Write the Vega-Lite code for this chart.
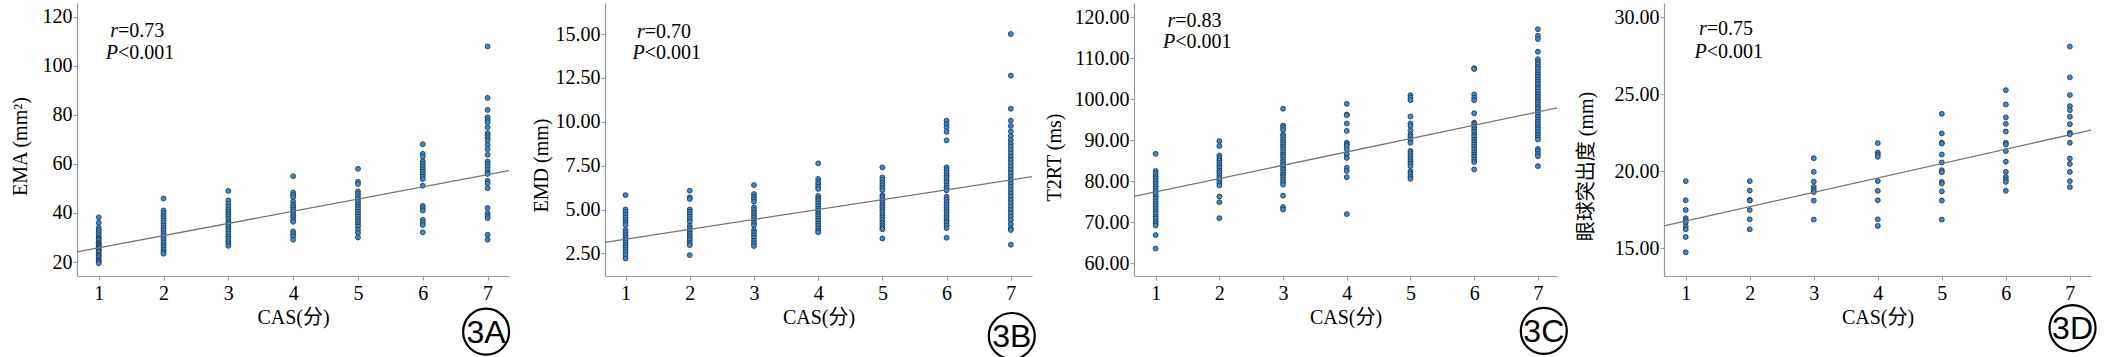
{
"$schema": "https://vega.github.io/schema/vega-lite/v6.json",
"padding": {"left": 10, "top": 3, "right": 0, "bottom": 0},
"background": "white",
"config": {
  "view": {"stroke": null},
  "axis": {"grid": false, "domainColor": "#9a9a9a", "domainWidth": 1.2, "tickColor": "#9a9a9a", "tickSize": 4, "tickWidth": 1,
    "labelFont": "Liberation Serif", "labelFontSize": 20, "labelColor": "#000000",
    "titleFont": "Liberation Serif, Noto Sans CJK SC", "titleFontSize": 20, "titleFontWeight": "normal", "titleColor": "#000000"},
  "axisX": {"labelPadding": 3, "titlePadding": 4},
  "axisY": {"labelPadding": 1}
},
"datasets": {
"A": [
{"CAS":1,"v":38.2},{"CAS":1,"v":36},{"CAS":1,"v":34},{"CAS":1,"v":33},{"CAS":1,"v":32},{"CAS":1,"v":31},{"CAS":1,"v":30},{"CAS":1,"v":29.5},{"CAS":1,"v":29},{"CAS":1,"v":28},{"CAS":1,"v":27.5},{"CAS":1,"v":27},{"CAS":1,"v":26.5},{"CAS":1,"v":26},{"CAS":1,"v":25.5},{"CAS":1,"v":25},{"CAS":1,"v":24.5},{"CAS":1,"v":24},{"CAS":1,"v":23},{"CAS":1,"v":22.5},{"CAS":1,"v":22},{"CAS":1,"v":21},{"CAS":1,"v":20.5},{"CAS":1,"v":20},{"CAS":1,"v":19.5},
{"CAS":2,"v":45.9},{"CAS":2,"v":41},{"CAS":2,"v":39.9},{"CAS":2,"v":38.8},{"CAS":2,"v":37.9},{"CAS":2,"v":36.9},{"CAS":2,"v":35.9},{"CAS":2,"v":34.8},{"CAS":2,"v":33.8},{"CAS":2,"v":32.9},{"CAS":2,"v":31.8},{"CAS":2,"v":30.8},{"CAS":2,"v":29.9},{"CAS":2,"v":29.1},{"CAS":2,"v":28},{"CAS":2,"v":27},{"CAS":2,"v":26.1},{"CAS":2,"v":25},{"CAS":2,"v":24.1},{"CAS":2,"v":23.4},
{"CAS":3,"v":49},{"CAS":3,"v":45.1},{"CAS":3,"v":43.7},{"CAS":3,"v":42.6},{"CAS":3,"v":41.5},{"CAS":3,"v":40.5},{"CAS":3,"v":39.5},{"CAS":3,"v":38.6},{"CAS":3,"v":37.6},{"CAS":3,"v":36.5},{"CAS":3,"v":35.6},{"CAS":3,"v":34.5},{"CAS":3,"v":33.6},{"CAS":3,"v":32.6},{"CAS":3,"v":31.5},{"CAS":3,"v":30.4},{"CAS":3,"v":29.5},{"CAS":3,"v":28.5},{"CAS":3,"v":27.6},{"CAS":3,"v":26.6},
{"CAS":4,"v":55},{"CAS":4,"v":48.3},{"CAS":4,"v":47.4},{"CAS":4,"v":46.4},{"CAS":4,"v":44.7},{"CAS":4,"v":43.3},{"CAS":4,"v":42.4},{"CAS":4,"v":41.3},{"CAS":4,"v":40.4},{"CAS":4,"v":39.3},{"CAS":4,"v":38.4},{"CAS":4,"v":37.3},{"CAS":4,"v":36.4},{"CAS":4,"v":32.5},{"CAS":4,"v":31.4},{"CAS":4,"v":30.5},{"CAS":4,"v":29.1},
{"CAS":5,"v":58},{"CAS":5,"v":52.7},{"CAS":5,"v":51.8},{"CAS":5,"v":48.8},{"CAS":5,"v":47.8},{"CAS":5,"v":46.7},{"CAS":5,"v":45.7},{"CAS":5,"v":44.7},{"CAS":5,"v":43.6},{"CAS":5,"v":42.6},{"CAS":5,"v":41.6},{"CAS":5,"v":40.6},{"CAS":5,"v":39.6},{"CAS":5,"v":38.6},{"CAS":5,"v":37.5},{"CAS":5,"v":36.5},{"CAS":5,"v":35.5},{"CAS":5,"v":34.5},{"CAS":5,"v":33.1},{"CAS":5,"v":31.8},{"CAS":5,"v":30},
{"CAS":6,"v":68},{"CAS":6,"v":64.1},{"CAS":6,"v":63},{"CAS":6,"v":61.1},{"CAS":6,"v":60},{"CAS":6,"v":58.9},{"CAS":6,"v":57.8},{"CAS":6,"v":56.9},{"CAS":6,"v":55.9},{"CAS":6,"v":54.9},{"CAS":6,"v":53.8},{"CAS":6,"v":51.1},{"CAS":6,"v":42.9},{"CAS":6,"v":42},{"CAS":6,"v":41},{"CAS":6,"v":37.2},{"CAS":6,"v":36.1},{"CAS":6,"v":35.1},{"CAS":6,"v":32.1},
{"CAS":7,"v":107.9},{"CAS":7,"v":86.9},{"CAS":7,"v":82},{"CAS":7,"v":79},{"CAS":7,"v":77.9},{"CAS":7,"v":77},{"CAS":7,"v":74.9},{"CAS":7,"v":72.5},{"CAS":7,"v":71.6},{"CAS":7,"v":70.5},{"CAS":7,"v":69.5},{"CAS":7,"v":67.8},{"CAS":7,"v":66},{"CAS":7,"v":63.7},{"CAS":7,"v":61},{"CAS":7,"v":60},{"CAS":7,"v":58.9},{"CAS":7,"v":57.6},{"CAS":7,"v":56.4},{"CAS":7,"v":55.9},{"CAS":7,"v":53.1},{"CAS":7,"v":52.1},{"CAS":7,"v":50.1},{"CAS":7,"v":42},{"CAS":7,"v":39.9},{"CAS":7,"v":38.8},{"CAS":7,"v":37.9},{"CAS":7,"v":31.1},{"CAS":7,"v":29.1}
],
"B": [
{"CAS":1,"v":5.82},{"CAS":1,"v":5.0},{"CAS":1,"v":4.87},{"CAS":1,"v":4.73},{"CAS":1,"v":4.55},{"CAS":1,"v":4.4},{"CAS":1,"v":4.26},{"CAS":1,"v":4.12},{"CAS":1,"v":3.83},{"CAS":1,"v":3.69},{"CAS":1,"v":3.54},{"CAS":1,"v":3.4},{"CAS":1,"v":3.26},{"CAS":1,"v":3.12},{"CAS":1,"v":2.97},{"CAS":1,"v":2.84},{"CAS":1,"v":2.69},{"CAS":1,"v":2.56},{"CAS":1,"v":2.4},{"CAS":1,"v":2.21},
{"CAS":2,"v":6.07},{"CAS":2,"v":5.69},{"CAS":2,"v":5.6},{"CAS":2,"v":5.0},{"CAS":2,"v":4.87},{"CAS":2,"v":4.73},{"CAS":2,"v":4.59},{"CAS":2,"v":4.45},{"CAS":2,"v":4.3},{"CAS":2,"v":4.06},{"CAS":2,"v":3.92},{"CAS":2,"v":3.79},{"CAS":2,"v":3.64},{"CAS":2,"v":3.5},{"CAS":2,"v":3.37},{"CAS":2,"v":3.26},{"CAS":2,"v":3.1},{"CAS":2,"v":2.97},{"CAS":2,"v":2.4},
{"CAS":3,"v":6.39},{"CAS":3,"v":5.88},{"CAS":3,"v":5.73},{"CAS":3,"v":5.6},{"CAS":3,"v":5.44},{"CAS":3,"v":5.12},{"CAS":3,"v":4.97},{"CAS":3,"v":4.82},{"CAS":3,"v":4.68},{"CAS":3,"v":4.55},{"CAS":3,"v":4.4},{"CAS":3,"v":4.25},{"CAS":3,"v":4.1},{"CAS":3,"v":3.83},{"CAS":3,"v":3.68},{"CAS":3,"v":3.54},{"CAS":3,"v":3.4},{"CAS":3,"v":3.22},{"CAS":3,"v":3.07},{"CAS":3,"v":2.92},
{"CAS":4,"v":7.63},{"CAS":4,"v":6.74},{"CAS":4,"v":6.58},{"CAS":4,"v":6.45},{"CAS":4,"v":6.3},{"CAS":4,"v":6.17},{"CAS":4,"v":5.77},{"CAS":4,"v":5.63},{"CAS":4,"v":5.5},{"CAS":4,"v":5.35},{"CAS":4,"v":5.21},{"CAS":4,"v":5.06},{"CAS":4,"v":4.93},{"CAS":4,"v":4.78},{"CAS":4,"v":4.64},{"CAS":4,"v":4.49},{"CAS":4,"v":4.36},{"CAS":4,"v":4.2},{"CAS":4,"v":4.07},{"CAS":4,"v":3.92},{"CAS":4,"v":3.79},{"CAS":4,"v":3.7},
{"CAS":5,"v":7.4},{"CAS":5,"v":6.83},{"CAS":5,"v":6.68},{"CAS":5,"v":6.53},{"CAS":5,"v":6.39},{"CAS":5,"v":6.24},{"CAS":5,"v":6.11},{"CAS":5,"v":5.82},{"CAS":5,"v":5.69},{"CAS":5,"v":5.54},{"CAS":5,"v":5.39},{"CAS":5,"v":5.25},{"CAS":5,"v":5.12},{"CAS":5,"v":4.97},{"CAS":5,"v":4.84},{"CAS":5,"v":4.68},{"CAS":5,"v":4.55},{"CAS":5,"v":4.4},{"CAS":5,"v":4.25},{"CAS":5,"v":4.11},{"CAS":5,"v":3.98},{"CAS":5,"v":3.87},{"CAS":5,"v":3.35},
{"CAS":6,"v":10.06},{"CAS":6,"v":9.87},{"CAS":6,"v":9.68},{"CAS":6,"v":9.43},{"CAS":6,"v":8.94},{"CAS":6,"v":7.4},{"CAS":6,"v":7.25},{"CAS":6,"v":7.1},{"CAS":6,"v":6.94},{"CAS":6,"v":6.81},{"CAS":6,"v":6.66},{"CAS":6,"v":6.53},{"CAS":6,"v":6.37},{"CAS":6,"v":6.24},{"CAS":6,"v":6.09},{"CAS":6,"v":5.73},{"CAS":6,"v":5.58},{"CAS":6,"v":5.42},{"CAS":6,"v":5.27},{"CAS":6,"v":5.12},{"CAS":6,"v":4.97},{"CAS":6,"v":4.84},{"CAS":6,"v":4.68},{"CAS":6,"v":4.53},{"CAS":6,"v":4.38},{"CAS":6,"v":4.25},{"CAS":6,"v":4.09},{"CAS":6,"v":3.94},{"CAS":6,"v":3.39},
{"CAS":7,"v":15.0},{"CAS":7,"v":12.63},{"CAS":7,"v":10.74},{"CAS":7,"v":10.06},{"CAS":7,"v":9.76},{"CAS":7,"v":9.45},{"CAS":7,"v":9.19},{"CAS":7,"v":8.96},{"CAS":7,"v":8.77},{"CAS":7,"v":8.58},{"CAS":7,"v":8.39},{"CAS":7,"v":8.2},{"CAS":7,"v":8.0},{"CAS":7,"v":7.82},{"CAS":7,"v":7.63},{"CAS":7,"v":7.44},{"CAS":7,"v":7.25},{"CAS":7,"v":7.06},{"CAS":7,"v":6.87},{"CAS":7,"v":6.68},{"CAS":7,"v":6.49},{"CAS":7,"v":6.3},{"CAS":7,"v":6.11},{"CAS":7,"v":5.92},{"CAS":7,"v":5.73},{"CAS":7,"v":5.54},{"CAS":7,"v":5.35},{"CAS":7,"v":5.16},{"CAS":7,"v":4.97},{"CAS":7,"v":4.78},{"CAS":7,"v":4.59},{"CAS":7,"v":4.4},{"CAS":7,"v":4.17},{"CAS":7,"v":3.94},{"CAS":7,"v":3.83},{"CAS":7,"v":2.99}
],
"C": [
{"CAS":1,"v":86.7},{"CAS":1,"v":82.5},{"CAS":1,"v":81.9},{"CAS":1,"v":81.2},{"CAS":1,"v":80.7},{"CAS":1,"v":80.0},{"CAS":1,"v":79.4},{"CAS":1,"v":78.8},{"CAS":1,"v":78.2},{"CAS":1,"v":77.6},{"CAS":1,"v":77.0},{"CAS":1,"v":76.3},{"CAS":1,"v":75.8},{"CAS":1,"v":75.1},{"CAS":1,"v":74.5},{"CAS":1,"v":73.9},{"CAS":1,"v":73.3},{"CAS":1,"v":72.7},{"CAS":1,"v":72.1},{"CAS":1,"v":71.4},{"CAS":1,"v":70.9},{"CAS":1,"v":70.2},{"CAS":1,"v":69.7},{"CAS":1,"v":69.2},{"CAS":1,"v":66.9},{"CAS":1,"v":63.6},
{"CAS":2,"v":89.8},{"CAS":2,"v":88.6},{"CAS":2,"v":86.3},{"CAS":2,"v":85.7},{"CAS":2,"v":85.1},{"CAS":2,"v":84.5},{"CAS":2,"v":83.9},{"CAS":2,"v":83.3},{"CAS":2,"v":82.6},{"CAS":2,"v":82.1},{"CAS":2,"v":81.4},{"CAS":2,"v":80.8},{"CAS":2,"v":80.2},{"CAS":2,"v":79.6},{"CAS":2,"v":79.0},{"CAS":2,"v":76.3},{"CAS":2,"v":74.9},{"CAS":2,"v":71.0},
{"CAS":3,"v":97.7},{"CAS":3,"v":93.6},{"CAS":3,"v":93.1},{"CAS":3,"v":92.5},{"CAS":3,"v":91.4},{"CAS":3,"v":90.9},{"CAS":3,"v":90.2},{"CAS":3,"v":89.6},{"CAS":3,"v":89.0},{"CAS":3,"v":88.4},{"CAS":3,"v":87.8},{"CAS":3,"v":87.1},{"CAS":3,"v":86.5},{"CAS":3,"v":86.0},{"CAS":3,"v":85.3},{"CAS":3,"v":84.7},{"CAS":3,"v":84.1},{"CAS":3,"v":83.5},{"CAS":3,"v":82.9},{"CAS":3,"v":82.2},{"CAS":3,"v":81.6},{"CAS":3,"v":81.1},{"CAS":3,"v":80.4},{"CAS":3,"v":79.8},{"CAS":3,"v":79.2},{"CAS":3,"v":76.5},{"CAS":3,"v":73.7},{"CAS":3,"v":73.1},
{"CAS":4,"v":98.9},{"CAS":4,"v":96.3},{"CAS":4,"v":96.1},{"CAS":4,"v":94.1},{"CAS":4,"v":92.3},{"CAS":4,"v":89.4},{"CAS":4,"v":89.0},{"CAS":4,"v":88.6},{"CAS":4,"v":87.8},{"CAS":4,"v":86.6},{"CAS":4,"v":85.7},{"CAS":4,"v":83.3},{"CAS":4,"v":82.5},{"CAS":4,"v":81.0},{"CAS":4,"v":72.0},
{"CAS":5,"v":101.0},{"CAS":5,"v":100.4},{"CAS":5,"v":99.8},{"CAS":5,"v":95.8},{"CAS":5,"v":94.1},{"CAS":5,"v":93.5},{"CAS":5,"v":92.4},{"CAS":5,"v":91.4},{"CAS":5,"v":90.9},{"CAS":5,"v":90.2},{"CAS":5,"v":89.4},{"CAS":5,"v":87.4},{"CAS":5,"v":86.8},{"CAS":5,"v":86.1},{"CAS":5,"v":85.5},{"CAS":5,"v":84.9},{"CAS":5,"v":84.3},{"CAS":5,"v":83.7},{"CAS":5,"v":82.5},{"CAS":5,"v":81.9},{"CAS":5,"v":81.2},{"CAS":5,"v":80.6},
{"CAS":6,"v":107.6},{"CAS":6,"v":107.4},{"CAS":6,"v":101.2},{"CAS":6,"v":100.4},{"CAS":6,"v":99.8},{"CAS":6,"v":96.6},{"CAS":6,"v":94.3},{"CAS":6,"v":93.9},{"CAS":6,"v":93.3},{"CAS":6,"v":92.7},{"CAS":6,"v":92.1},{"CAS":6,"v":91.4},{"CAS":6,"v":90.9},{"CAS":6,"v":90.2},{"CAS":6,"v":89.6},{"CAS":6,"v":89.0},{"CAS":6,"v":88.4},{"CAS":6,"v":87.8},{"CAS":6,"v":87.1},{"CAS":6,"v":86.5},{"CAS":6,"v":86.0},{"CAS":6,"v":85.3},{"CAS":6,"v":84.7},{"CAS":6,"v":82.9},
{"CAS":7,"v":117.1},{"CAS":7,"v":115.5},{"CAS":7,"v":114.7},{"CAS":7,"v":111.6},{"CAS":7,"v":109.8},{"CAS":7,"v":109.1},{"CAS":7,"v":108.6},{"CAS":7,"v":107.9},{"CAS":7,"v":107.4},{"CAS":7,"v":106.7},{"CAS":7,"v":106.1},{"CAS":7,"v":105.5},{"CAS":7,"v":104.9},{"CAS":7,"v":104.3},{"CAS":7,"v":103.7},{"CAS":7,"v":103.0},{"CAS":7,"v":102.5},{"CAS":7,"v":101.8},{"CAS":7,"v":101.2},{"CAS":7,"v":100.6},{"CAS":7,"v":100.0},{"CAS":7,"v":99.4},{"CAS":7,"v":98.8},{"CAS":7,"v":98.1},{"CAS":7,"v":97.6},{"CAS":7,"v":96.9},{"CAS":7,"v":96.3},{"CAS":7,"v":95.7},{"CAS":7,"v":95.1},{"CAS":7,"v":94.5},{"CAS":7,"v":93.9},{"CAS":7,"v":93.2},{"CAS":7,"v":92.7},{"CAS":7,"v":92.0},{"CAS":7,"v":91.4},{"CAS":7,"v":90.8},{"CAS":7,"v":90.2},{"CAS":7,"v":87.9},{"CAS":7,"v":87.4},{"CAS":7,"v":86.7},{"CAS":7,"v":86.1},{"CAS":7,"v":83.7}
],
"D": [
{"CAS":1,"v":19.36},{"CAS":1,"v":18.12},{"CAS":1,"v":17.49},{"CAS":1,"v":16.95},{"CAS":1,"v":16.8},{"CAS":1,"v":16.67},{"CAS":1,"v":16.41},{"CAS":1,"v":16.23},{"CAS":1,"v":15.73},{"CAS":1,"v":14.74},
{"CAS":2,"v":19.36},{"CAS":2,"v":18.75},{"CAS":2,"v":18.14},{"CAS":2,"v":18.1},{"CAS":2,"v":17.49},{"CAS":2,"v":16.88},{"CAS":2,"v":16.23},
{"CAS":3,"v":20.85},{"CAS":3,"v":19.96},{"CAS":3,"v":19.33},{"CAS":3,"v":18.99},{"CAS":3,"v":18.8},{"CAS":3,"v":18.65},{"CAS":3,"v":18.1},{"CAS":3,"v":16.86},
{"CAS":4,"v":21.83},{"CAS":4,"v":21.22},{"CAS":4,"v":21.09},{"CAS":4,"v":20.94},{"CAS":4,"v":19.36},{"CAS":4,"v":18.73},{"CAS":4,"v":18.12},{"CAS":4,"v":16.88},{"CAS":4,"v":16.45},
{"CAS":5,"v":23.73},{"CAS":5,"v":22.46},{"CAS":5,"v":21.85},{"CAS":5,"v":21.8},{"CAS":5,"v":21.09},{"CAS":5,"v":20.57},{"CAS":5,"v":20.07},{"CAS":5,"v":19.94},{"CAS":5,"v":19.31},{"CAS":5,"v":19.2},{"CAS":5,"v":18.7},{"CAS":5,"v":18.1},{"CAS":5,"v":16.86},
{"CAS":6,"v":25.27},{"CAS":6,"v":24.34},{"CAS":6,"v":23.5},{"CAS":6,"v":23.08},{"CAS":6,"v":22.58},{"CAS":6,"v":21.85},{"CAS":6,"v":21.74},{"CAS":6,"v":21.31},{"CAS":6,"v":20.62},{"CAS":6,"v":19.96},{"CAS":6,"v":19.64},{"CAS":6,"v":19.47},{"CAS":6,"v":19.31},{"CAS":6,"v":18.73},
{"CAS":7,"v":28.1},{"CAS":7,"v":26.1},{"CAS":7,"v":24.95},{"CAS":7,"v":24.23},{"CAS":7,"v":23.97},{"CAS":7,"v":23.54},{"CAS":7,"v":23.06},{"CAS":7,"v":22.5},{"CAS":7,"v":22.4},{"CAS":7,"v":21.85},{"CAS":7,"v":20.83},{"CAS":7,"v":20.48},{"CAS":7,"v":19.96},{"CAS":7,"v":19.36},{"CAS":7,"v":18.97}
]
},
"bounds": "flush",
"spacing": 96,
"hconcat": [
{
 "width": 432, "height": 273,
 "layer": [
  {"data": {"name": "A"}, "mark": {"type": "point", "filled": true, "size": 24, "fill": "#3b8bd0", "stroke": "#1f3a55", "strokeWidth": 0.9, "opacity": 1},
   "encoding": {
    "x": {"field": "CAS", "type": "quantitative", "scale": {"domain": [0.665, 7.33], "nice": false, "zero": false}, "axis": {"title": "CAS(分)", "values": [1,2,3,4,5,6,7], "format": "d"}},
    "y": {"field": "v", "type": "quantitative", "scale": {"domain": [14.3, 125.6], "nice": false, "zero": false}, "axis": {"title": "EMA (mm²)", "values": [20,40,60,80,100,120], "format": "d", "titlePadding": 12, "titleY": 143}}
   }},
  {"data": {"values": [{"CAS": 0.665, "v": 24.1}, {"CAS": 7.33, "v": 57.3}]}, "mark": {"type": "line", "color": "#757575", "strokeWidth": 1.3},
   "encoding": {"x": {"field": "CAS", "type": "quantitative"}, "y": {"field": "v", "type": "quantitative"}}},
  {"data": {"values": [{}]}, "mark": {"type": "text", "text": ["r", "P"], "fontStyle": "italic", "align": "right", "baseline": "alphabetic", "lineHeight": 22, "font": "Liberation Serif", "fontSize": 20, "color": "#000"}, "encoding": {"x": {"datum": 1.298}, "y": {"datum": 111.85}}},
  {"data": {"values": [{}]}, "mark": {"type": "text", "text": ["=0.73", "<0.001"], "align": "left", "baseline": "alphabetic", "lineHeight": 22, "font": "Liberation Serif", "fontSize": 20, "color": "#000"}, "encoding": {"x": {"datum": 1.298}, "y": {"datum": 111.85}}},
  {"data": {"values": [{}]}, "mark": {"type": "point", "shape": "circle", "size": 2116, "filled": false, "stroke": "#000", "strokeWidth": 2.2, "opacity": 1}, "encoding": {"x": {"datum": 6.977}, "y": {"datum": -8.39}}},
  {"data": {"values": [{}]}, "mark": {"type": "text", "text": "3A", "font": "Liberation Sans", "fontSize": 32, "align": "center", "baseline": "middle", "dy": 1, "color": "#000"}, "encoding": {"x": {"datum": 6.977}, "y": {"datum": -8.39}}}
 ]
},
{
 "bounds": "flush",
 "spacing": 102,
 "hconcat": [
 {
  "width": 427, "height": 273,
  "layer": [
   {"data": {"name": "B"}, "mark": {"type": "point", "filled": true, "size": 24, "fill": "#3b8bd0", "stroke": "#1f3a55", "strokeWidth": 0.9, "opacity": 1},
    "encoding": {
     "x": {"field": "CAS", "type": "quantitative", "scale": {"domain": [0.68, 7.33], "nice": false, "zero": false}, "axis": {"title": "CAS(分)", "values": [1,2,3,4,5,6,7], "format": "d"}},
     "y": {"field": "v", "type": "quantitative", "scale": {"domain": [1.21, 16.77], "nice": false, "zero": false}, "axis": {"title": "EMD (mm)", "values": [2.5,5,7.5,10,12.5,15], "format": ".2f", "titlePadding": 4, "titleY": 162}}
    }},
   {"data": {"values": [{"CAS": 0.68, "v": 3.13}, {"CAS": 7.33, "v": 6.87}]}, "mark": {"type": "line", "color": "#757575", "strokeWidth": 1.3},
    "encoding": {"x": {"field": "CAS", "type": "quantitative"}, "y": {"field": "v", "type": "quantitative"}}},
   {"data": {"values": [{}]}, "mark": {"type": "text", "text": ["r", "P"], "fontStyle": "italic", "align": "right", "baseline": "alphabetic", "lineHeight": 21, "font": "Liberation Serif", "fontSize": 20, "color": "#000"}, "encoding": {"x": {"datum": 1.298}, "y": {"datum": 14.79}}},
   {"data": {"values": [{}]}, "mark": {"type": "text", "text": ["=0.70", "<0.001"], "align": "left", "baseline": "alphabetic", "lineHeight": 21, "font": "Liberation Serif", "fontSize": 20, "color": "#000"}, "encoding": {"x": {"datum": 1.298}, "y": {"datum": 14.79}}},
   {"data": {"values": [{}]}, "mark": {"type": "point", "shape": "circle", "size": 2116, "filled": false, "stroke": "#000", "strokeWidth": 2.2, "opacity": 1}, "encoding": {"x": {"datum": 7.015}, "y": {"datum": -2.21}}},
   {"data": {"values": [{}]}, "mark": {"type": "text", "text": "3B", "font": "Liberation Sans", "fontSize": 32, "align": "center", "baseline": "middle", "dy": 1, "color": "#000"}, "encoding": {"x": {"datum": 7.015}, "y": {"datum": -2.21}}}
  ]
 },
 {
  "bounds": "flush",
  "spacing": 107,
  "hconcat": [
  {
   "width": 423, "height": 273,
   "layer": [
    {"data": {"name": "C"}, "mark": {"type": "point", "filled": true, "size": 24, "fill": "#3b8bd0", "stroke": "#1f3a55", "strokeWidth": 0.9, "opacity": 1},
     "encoding": {
      "x": {"field": "CAS", "type": "quantitative", "scale": {"domain": [0.66, 7.30], "nice": false, "zero": false}, "axis": {"title": "CAS(分)", "values": [1,2,3,4,5,6,7], "format": "d"}},
      "y": {"field": "v", "type": "quantitative", "scale": {"domain": [56.9, 123.5], "nice": false, "zero": false}, "axis": {"title": "T2RT (ms)", "values": [60,70,80,90,100,110,120], "format": ".2f", "titlePadding": 10, "titleY": 154}}
     }},
    {"data": {"values": [{"CAS": 0.66, "v": 76.3}, {"CAS": 7.30, "v": 97.9}]}, "mark": {"type": "line", "color": "#757575", "strokeWidth": 1.3},
     "encoding": {"x": {"field": "CAS", "type": "quantitative"}, "y": {"field": "v", "type": "quantitative"}}},
    {"data": {"values": [{}]}, "mark": {"type": "text", "text": ["r", "P"], "fontStyle": "italic", "align": "right", "baseline": "alphabetic", "lineHeight": 21, "font": "Liberation Serif", "fontSize": 20, "color": "#000"}, "encoding": {"x": {"datum": 1.308}, "y": {"datum": 117.56}}},
    {"data": {"values": [{}]}, "mark": {"type": "text", "text": ["=0.83", "<0.001"], "align": "left", "baseline": "alphabetic", "lineHeight": 21, "font": "Liberation Serif", "fontSize": 20, "color": "#000"}, "encoding": {"x": {"datum": 1.308}, "y": {"datum": 117.56}}},
    {"data": {"values": [{}]}, "mark": {"type": "point", "shape": "circle", "size": 2116, "filled": false, "stroke": "#000", "strokeWidth": 2.2, "opacity": 1}, "encoding": {"x": {"datum": 7.093}, "y": {"datum": 43.49}}},
    {"data": {"values": [{}]}, "mark": {"type": "text", "text": "3C", "font": "Liberation Sans", "fontSize": 32, "align": "center", "baseline": "middle", "dy": 1, "color": "#000"}, "encoding": {"x": {"datum": 7.093}, "y": {"datum": 43.49}}}
   ]
  },
  {
   "width": 427, "height": 273,
   "layer": [
    {"data": {"name": "D"}, "mark": {"type": "point", "filled": true, "size": 24, "fill": "#3b8bd0", "stroke": "#1f3a55", "strokeWidth": 0.9, "opacity": 1},
     "encoding": {
      "x": {"field": "CAS", "type": "quantitative", "scale": {"domain": [0.661, 7.33], "nice": false, "zero": false}, "axis": {"title": "CAS(分)", "values": [1,2,3,4,5,6,7], "format": "d"}},
      "y": {"field": "v", "type": "quantitative", "scale": {"domain": [13.2, 30.93], "nice": false, "zero": false}, "axis": {"title": "眼球突出度 (mm)", "values": [15,20,25,30], "format": ".2f", "titlePadding": 18, "titleY": 163}}
     }},
    {"data": {"values": [{"CAS": 0.661, "v": 16.45}, {"CAS": 7.33, "v": 22.68}]}, "mark": {"type": "line", "color": "#757575", "strokeWidth": 1.3},
     "encoding": {"x": {"field": "CAS", "type": "quantitative"}, "y": {"field": "v", "type": "quantitative"}}},
    {"data": {"values": [{}]}, "mark": {"type": "text", "text": ["r", "P"], "fontStyle": "italic", "align": "right", "baseline": "alphabetic", "lineHeight": 23, "font": "Liberation Serif", "fontSize": 20, "color": "#000"}, "encoding": {"x": {"datum": 1.328}, "y": {"datum": 28.85}}},
    {"data": {"values": [{}]}, "mark": {"type": "text", "text": ["=0.75", "<0.001"], "align": "left", "baseline": "alphabetic", "lineHeight": 23, "font": "Liberation Serif", "fontSize": 20, "color": "#000"}, "encoding": {"x": {"datum": 1.328}, "y": {"datum": 28.85}}},
    {"data": {"values": [{}]}, "mark": {"type": "point", "shape": "circle", "size": 2116, "filled": false, "stroke": "#000", "strokeWidth": 2.2, "opacity": 1}, "encoding": {"x": {"datum": 7.042}, "y": {"datum": 9.82}}},
    {"data": {"values": [{}]}, "mark": {"type": "text", "text": "3D", "font": "Liberation Sans", "fontSize": 32, "align": "center", "baseline": "middle", "dy": 1, "color": "#000"}, "encoding": {"x": {"datum": 7.042}, "y": {"datum": 9.82}}}
   ]
  }
  ]
 }
 ]
}
]
}
